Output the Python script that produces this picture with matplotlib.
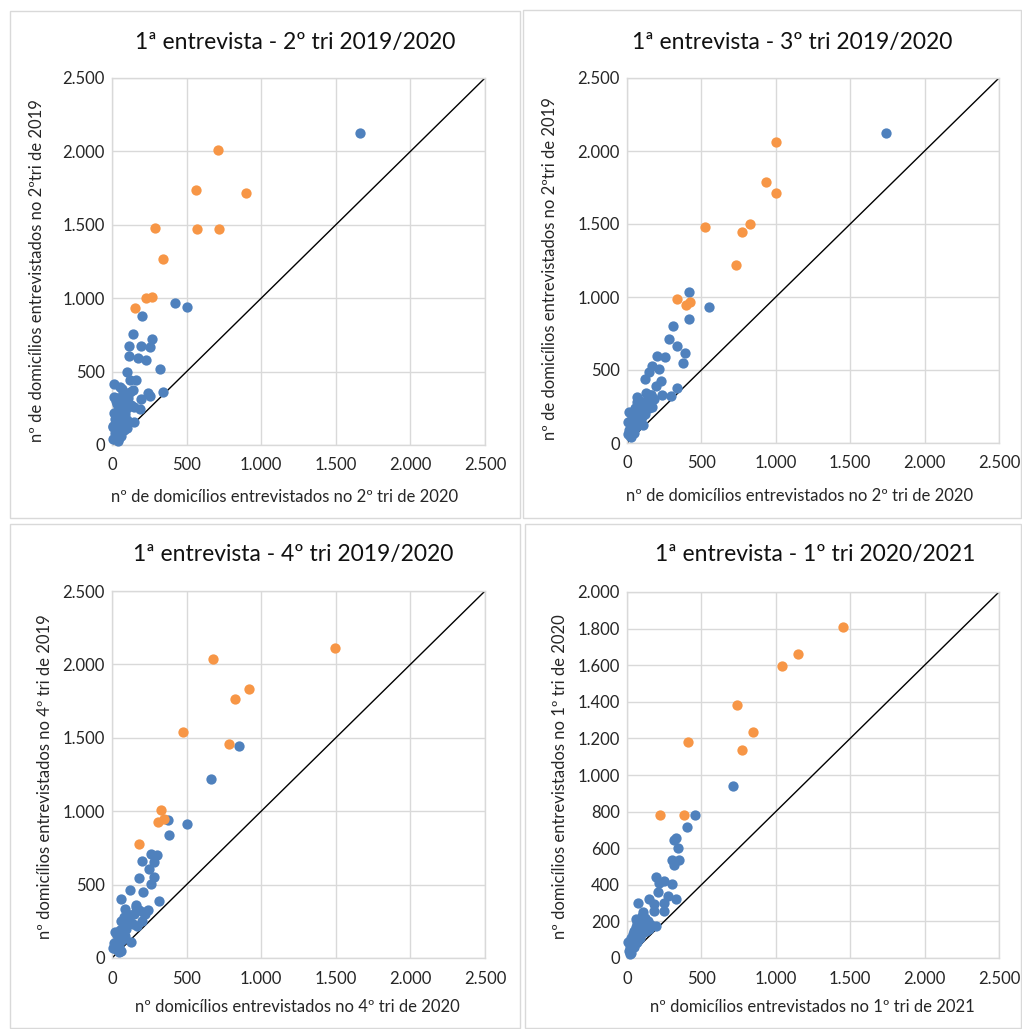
import matplotlib

matplotlib.use("Agg")
import matplotlib.pyplot as plt
from matplotlib.patches import Rectangle
from matplotlib.ticker import FuncFormatter, MultipleLocator

plt.rcParams["font.family"] = ["Lato", "DejaVu Sans"]

BLUE = "#4F81BD"
ORANGE = "#F79646"
GRID = "#D9D9D9"

# painel 1: 1a entrevista - 2o tri 2019/2020
p1_blue_x = [1660, 422, 505, 203, 139, 266, 112, 194, 257, 112, 174, 230, 103, 322,
             13, 163, 121, 143, 244, 253, 340, 192, 54, 98, 31, 188, 147, 150, 20, 98,
             10, 20, 30, 40, 50, 60, 70, 80, 25, 15, 35, 45, 55, 65, 75, 85, 30, 50,
             90, 100, 110, 120, 130, 20, 40, 60, 70, 5, 10, 80, 100, 40, 60,
             15, 35, 55, 75, 45, 25, 65]
p1_blue_y = [2127, 970, 943, 877, 757, 720, 675, 675, 670, 609, 595, 580, 500, 516,
             414, 443, 443, 375, 357, 336, 364, 311, 398, 330, 318, 248, 261, 155, 216, 114,
             120, 80, 60, 150, 200, 250, 180, 300, 300, 330, 280, 110, 90, 140, 230, 160, 40, 50,
             210, 250, 320, 360, 270, 180, 240, 330, 380, 130, 40, 100, 170, 30, 60,
             220, 200, 160, 120, 260, 150, 210]
p1_orange_x = [710, 563, 900, 288, 572, 717, 344, 226, 266, 152]
p1_orange_y = [2007, 1736, 1720, 1477, 1470, 1470, 1266, 998, 1007, 932]

# painel 2: 1a entrevista - 3o tri 2019/2020
p2_blue_x = [1739, 416, 553, 416, 307, 280, 333, 387, 378, 204, 253, 170, 150, 217,
             228, 121, 194, 333, 295, 235, 161, 130, 67, 11, 5, 107,
             20, 30, 40, 50, 60, 70, 80, 90, 100, 110, 120, 130, 140, 150, 160, 170, 180,
             25, 35, 45, 55, 65, 75, 15, 10, 30, 50, 90, 85, 100, 120, 60]
p2_blue_y = [2122, 1035, 934, 848, 802, 713, 661, 615, 549, 597, 586, 529, 485, 506,
             428, 440, 387, 376, 319, 326, 328, 340, 317, 210, 141, 125,
             50, 80, 100, 120, 160, 200, 180, 230, 260, 220, 280, 250, 300, 240, 330, 250, 300,
             130, 170, 210, 240, 280, 140, 90, 60, 40, 70, 150, 290, 180, 200, 110]
p2_orange_x = [998, 935, 998, 524, 770, 826, 734, 333, 396, 425]
p2_orange_y = [2065, 1787, 1714, 1481, 1445, 1500, 1221, 989, 943, 966]

# painel 3: 1a entrevista - 4o tri 2019/2020
p3_blue_x = [854, 664, 501, 376, 382, 264, 302, 201, 280, 246, 282, 183, 264, 123,
             208, 63, 318, 163, 89, 242, 208, 130,
             20, 30, 40, 50, 60, 70, 80, 90, 100, 110, 120, 130, 140, 150, 160, 170, 180,
             200, 220, 10, 15, 25, 35, 45, 55, 65, 75, 85, 95, 60, 45]
p3_blue_y = [1443, 1220, 914, 943, 841, 709, 700, 664, 655, 605, 552, 545, 507, 461,
             450, 405, 386, 359, 332, 325, 314, 109,
             180, 90, 120, 140, 250, 200, 280, 230, 300, 260, 240, 290, 230, 300, 350, 220, 330,
             250, 300, 70, 100, 60, 160, 80, 190, 120, 170, 150, 200, 50, 40]
p3_orange_x = [1496, 675, 921, 823, 474, 785, 331, 309, 349, 183]
p3_orange_y = [2114, 2039, 1834, 1761, 1539, 1457, 1011, 927, 945, 777]

# painel 4: 1a entrevista - 1o tri 2020/2021
p4_blue_x = [714, 459, 405, 331, 318, 340, 300, 351, 313, 192, 251, 304, 217, 208,
             275, 331, 145, 74, 183, 246, 183, 248, 63, 105, 192,
             10, 20, 30, 40, 50, 60, 70, 80, 90, 100, 110, 120, 130, 140, 150, 160,
             15, 25, 35, 45, 55, 65, 75, 85, 95, 105, 115, 125, 20, 30, 50, 60]
p4_blue_y = [940, 783, 717, 657, 644, 599, 538, 538, 507, 440, 422, 407, 411, 361,
             338, 321, 321, 301, 297, 301, 259, 259, 212, 252, 175,
             90, 60, 110, 130, 150, 170, 190, 150, 210, 230, 200, 220, 170, 200, 160, 180,
             40, 80, 70, 100, 120, 90, 140, 110, 130, 170, 140, 150, 20, 30, 60, 80]
p4_orange_x = [1450, 1148, 1041, 739, 848, 410, 774, 219, 380]
p4_orange_y = [1808, 1659, 1593, 1383, 1235, 1182, 1139, 781, 781]

titles = [
    "1ª entrevista - 2º tri 2019/2020",
    "1ª entrevista - 3º tri 2019/2020",
    "1ª entrevista - 4º tri 2019/2020",
    "1ª entrevista - 1º tri 2020/2021",
]
x_labels = [
    "nº de domicílios entrevistados no 2º tri de 2020",
    "nº de domicílios entrevistados no 2º tri de 2020",
    "nº domicílios entrevistados no 4º tri de 2020",
    "nº domicílios entrevistados no 1º tri de 2021",
]
y_labels = [
    "nº de domicílios entrevistados no 2ºtri de 2019",
    "nº de domicílios entrevistados no 2ºtri de 2019",
    "nº domicílios entrevistados no 4º tri de 2019",
    "nº domicílios entrevistados no 1º tri de 2020",
]
x_max = [2500, 2500, 2500, 2500]
y_max = [2500, 2500, 2500, 2000]
y_step = [500, 500, 500, 200]

W, H = 1022, 1029


def fx(px):
    return px / W


def fy(py):
    return 1 - py / H


def thousands(v, _pos):
    return f"{v:,.0f}".replace(",", ".")


panels = [
    dict(bx=p1_blue_x, by=p1_blue_y, ox=p1_orange_x, oy=p1_orange_y,
         ax=(112, 78, 485, 445), frame=(10, 11, 520, 518),
         title=(295, 43), xl=(285, 497), yl=(37, 271)),
    dict(bx=p2_blue_x, by=p2_blue_y, ox=p2_orange_x, oy=p2_orange_y,
         ax=(627, 78, 999, 443), frame=(523, 10, 1021, 518),
         title=(792, 43), xl=(800, 496), yl=(550, 269)),
    dict(bx=p3_blue_x, by=p3_blue_y, ox=p3_orange_x, oy=p3_orange_y,
         ax=(112, 591, 485, 958), frame=(10, 524, 520, 1028),
         title=(293, 555), xl=(297, 1007), yl=(45, 777)),
    dict(bx=p4_blue_x, by=p4_blue_y, ox=p4_orange_x, oy=p4_orange_y,
         ax=(627, 592, 999, 958), frame=(525, 524, 1021, 1028),
         title=(815, 555), xl=(812, 1007), yl=(560, 777)),
]

fig = plt.figure(figsize=(W / 100, H / 100), dpi=100)

for i, p in enumerate(panels):
    l, t, r, b = p["frame"]
    fig.patches.append(Rectangle((fx(l), fy(b)), fx(r - l), (b - t) / H,
                                 transform=fig.transFigure, fill=False,
                                 edgecolor=GRID, linewidth=1))

    l, t, r, b = p["ax"]
    ax = fig.add_axes([fx(l), fy(b), fx(r - l), (b - t) / H])
    ax.set_xlim(0, x_max[i])
    ax.set_ylim(0, y_max[i])
    ax.xaxis.set_major_locator(MultipleLocator(500))
    ax.yaxis.set_major_locator(MultipleLocator(y_step[i]))
    ax.xaxis.set_major_formatter(FuncFormatter(thousands))
    ax.yaxis.set_major_formatter(FuncFormatter(thousands))
    ax.grid(True, color=GRID, linewidth=1)
    ax.set_axisbelow(True)
    for s in ax.spines.values():
        s.set_color(GRID)
        s.set_linewidth(1)
    ax.tick_params(length=0, labelsize=12, colors="#262626", pad=5)
    ax.tick_params(axis="x", pad=9)

    ax.plot([0, x_max[i]], [0, y_max[i]], color="black", linewidth=1, zorder=2)
    ax.scatter(p["bx"], p["by"], s=55, color=BLUE, linewidths=0, zorder=3, clip_on=False)
    ax.scatter(p["ox"], p["oy"], s=55, color=ORANGE, linewidths=0, zorder=4, clip_on=False)

    tx, ty = p["title"]
    fig.text(fx(tx), fy(ty), titles[i], ha="center", va="center", fontsize=16.5, color="#111111")
    tx, ty = p["xl"]
    fig.text(fx(tx), fy(ty), x_labels[i], ha="center", va="center", fontsize=12,
             color="#262626")
    tx, ty = p["yl"]
    fig.text(fx(tx), fy(ty), y_labels[i], ha="center", va="center", fontsize=12,
             color="#262626", rotation=90)

fig.savefig("out.png", dpi=100)
